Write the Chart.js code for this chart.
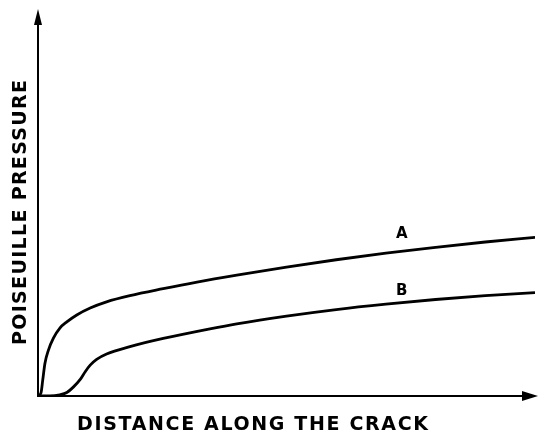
<!DOCTYPE html>
<html>
<head>
<meta charset="utf-8">
<script src="https://cdn.jsdelivr.net/npm/chart.js@4/dist/chart.umd.min.js"></script>
<style>
  html, body { margin: 0; padding: 0; background: #fff; }
  #wrap { width: 539px; height: 435px; }
</style>
</head>
<body>
<div id="wrap"><canvas id="crackChart"></canvas></div>
<script>
// distance along the crack (0-100) and pressure (0-100), arbitrary units
const distA = [0, 0.6, 0.95, 1.4, 2.1, 3.1, 4.4, 5.8, 7.8, 10.5, 13.8, 18.5, 25.2, 32, 40, 50, 60, 70, 80, 90, 100];
const pressA = [0, 0.8, 4.1, 8.5, 11.9, 15.0, 17.6, 19.2, 21.0, 22.8, 24.4, 26.0, 27.8, 29.5, 31.3, 33.4, 35.3, 37.0, 38.5, 39.9, 41.1];

const distB = [0, 2.4, 4.4, 5.8, 7.1, 8.5, 9.5, 10.5, 11.8, 13.8, 18.5, 25.2, 34.6, 40, 50, 60, 70, 80, 90, 100];
const pressB = [0, 0, 0.3, 0.9, 2.3, 4.3, 6.3, 8.0, 9.5, 10.9, 12.8, 14.9, 17.4, 18.7, 20.7, 22.4, 23.8, 25.0, 26.0, 26.8];

const curveNames = ['A', 'B'];
const labelPos = [[73.2, 42.0], [73.2, 27.3]];
const xTitle = 'DISTANCE ALONG THE CRACK';
const yTitle = 'POISEUILLE PRESSURE';

const toPoints = (xs, ys) => xs.map((x, i) => ({ x: x, y: ys[i] }));

// draws arrowed axes, axis titles and the curve letters
const sketchAxes = {
    id: 'sketchAxes',
    afterDatasetsDraw(chart) {
        const ctx = chart.ctx;
        const area = chart.chartArea;
        const xs = chart.scales.x, ys = chart.scales.y;
        ctx.save();
        ctx.strokeStyle = '#000';
        ctx.fillStyle = '#000';
        ctx.lineWidth = 2;

        // axis lines
        ctx.beginPath();
        ctx.moveTo(area.left, 24);
        ctx.lineTo(area.left, area.bottom);
        ctx.lineTo(524, area.bottom);
        ctx.stroke();

        // arrow heads
        ctx.beginPath();
        ctx.moveTo(area.left, 9);
        ctx.lineTo(area.left - 4, 25);
        ctx.lineTo(area.left + 4, 25);
        ctx.closePath();
        ctx.fill();
        ctx.beginPath();
        ctx.moveTo(538, area.bottom);
        ctx.lineTo(522, area.bottom - 5);
        ctx.lineTo(522, area.bottom + 5);
        ctx.closePath();
        ctx.fill();

        // titles stretched to their lettering width
        const spaced = (text, width) => {
            ctx.letterSpacing = '0px';
            const w = ctx.measureText(text).width;
            const gap = (width - w) / (text.length - 1);
            ctx.letterSpacing = gap + 'px';
        };
        ctx.font = 'bold 19px "DejaVu Sans", sans-serif';
        ctx.textAlign = 'left';
        ctx.textBaseline = 'alphabetic';
        spaced(xTitle, 351);
        ctx.fillText(xTitle, 77, 430);

        ctx.save();
        ctx.translate(26, 345);
        ctx.rotate(-Math.PI / 2);
        spaced(yTitle, 265);
        ctx.fillText(yTitle, 0, 0);
        ctx.restore();

        ctx.letterSpacing = '0px';
        ctx.font = 'bold 15px "DejaVu Sans", sans-serif';
        ctx.textAlign = 'center';
        ctx.textBaseline = 'middle';
        curveNames.forEach((name, i) => {
            ctx.fillText(name, xs.getPixelForValue(labelPos[i][0]), ys.getPixelForValue(labelPos[i][1]));
        });
        ctx.restore();
    }
};

new Chart(document.getElementById('crackChart'), {
    type: 'line',
    data: {
        datasets: [{
            label: curveNames[0],
            data: toPoints(distA, pressA),
            borderColor: '#000',
            borderWidth: 2.8,
            pointRadius: 0,
            cubicInterpolationMode: 'monotone'
        }, {
            label: curveNames[1],
            data: toPoints(distB, pressB),
            borderColor: '#000',
            borderWidth: 2.8,
            pointRadius: 0,
            cubicInterpolationMode: 'monotone'
        }]
    },
    options: {
        responsive: true,
        maintainAspectRatio: false,
        animation: false,
        layout: { padding: { left: 38, right: 4, top: 10, bottom: 39 } },
        plugins: { legend: { display: false }, tooltip: { enabled: false } },
        scales: {
            x: { type: 'linear', min: 0, max: 100, display: false },
            y: { type: 'linear', min: 0, max: 100, display: false }
        }
    },
    plugins: [sketchAxes]
});
</script>
</body>
</html>
